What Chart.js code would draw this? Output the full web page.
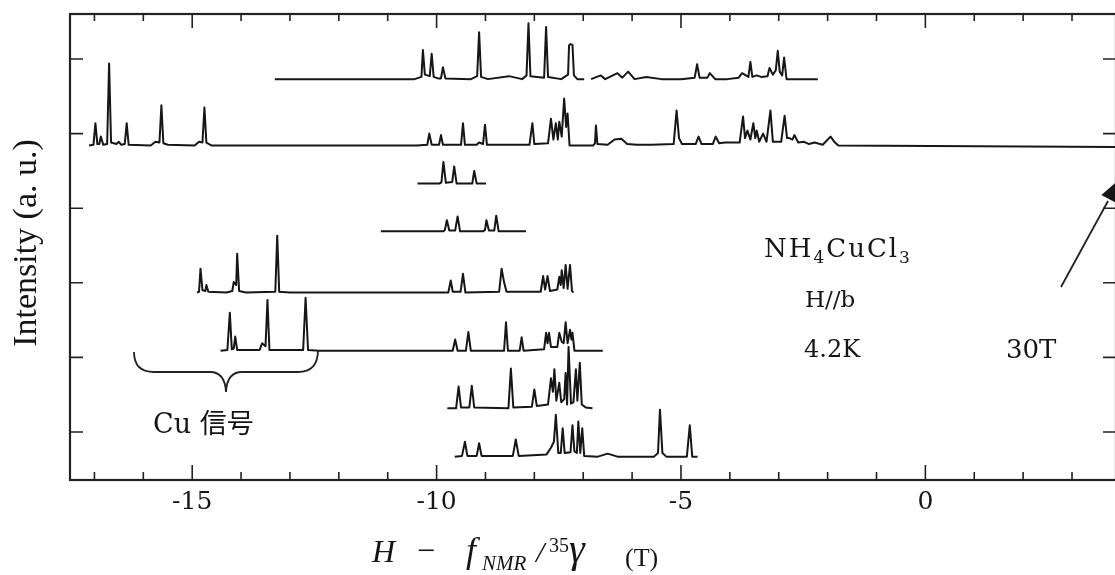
<!DOCTYPE html>
<html lang="ja">
<head>
<meta charset="UTF-8">
<title>NH4CuCl3 NMR spectra</title>
<script src="https://cdn.jsdelivr.net/npm/chart.js"></script>
<style>
  html, body { margin: 0; padding: 0; background: #fff; overflow: hidden; }
  #wrap { width: 1115px; height: 575px; overflow: hidden; }
</style>
</head>
<body>
<div id="wrap"><canvas id="c" width="1125" height="575"></canvas></div>
<script>
  // field axis (T), intensity axis in tick units
  const xMin = -17.5, xMax = 3.9;
  const yMin = 0.357, yMax = 6.603;
  const xTicks = [-17, -16, -15, -14, -13, -12, -11, -10, -9, -8, -7, -6, -5, -4, -3, -2, -1, 0, 1, 2, 3];
  const yTicks = [1, 2, 3, 4, 5, 6];

  // baseline of each stacked spectrum, top to bottom
  const offsets = [5.73, 4.84, 4.33, 3.69, 2.87, 2.09, 1.32, 0.67];

  const specA_x = [-13.31, -10.45, -10.31, -10.28, -10.24, -10.14, -10.10, -10.06, -9.97, -9.91, -9.87, -9.82, -9.30, -9.17, -9.13, -9.09, -8.95, -8.52, -8.25, -8.16, -8.12, -8.08, -7.80, -7.76, -7.72, -7.45, -7.31, -7.29, -7.26, -7.22, -7.19, -7.12, -6.98, -6.91,
    -6.84, -6.64, -6.55, -6.30, -6.20, -6.08, -5.95, -5.71, -5.40, -5.00, -4.72, -4.67, -4.62, -4.46, -4.41, -4.30, -4.05, -3.82, -3.75, -3.62, -3.58, -3.54, -3.45, -3.36, -3.23, -3.19, -3.12, -3.06, -3.02, -2.98, -2.93, -2.89, -2.84, -2.20];
  const specA_y = [0, 0, 0.03, 0.39, 0.06, 0.04, 0.34, 0.03, 0.01, 0.01, 0.16, 0.01, 0, 0.04, 0.63, 0.03, 0, 0.04, 0, 0.05, 0.75, 0.04, 0.02, 0.70, 0.03, 0, 0.06, 0.45, 0.47, 0.46, 0.05, 0, 0, null,
    0, 0.05, 0, 0.08, 0.02, 0.10, 0, 0.03, 0, 0, 0.02, 0.20, 0.02, 0.02, 0.08, 0, 0, 0.02, 0.08, 0.03, 0.23, 0.03, 0.05, 0.03, 0.04, 0.15, 0.06, 0.12, 0.38, 0.10, 0.05, 0.29, 0, 0];

  const specB_x = [-17.11, -17.02, -16.98, -16.94, -16.90, -16.87, -16.82, -16.74, -16.70, -16.66, -16.55, -16.50, -16.45, -16.38, -16.34, -16.30, -15.85, -15.75, -15.67, -15.63, -15.59, -15.50, -14.95, -14.86, -14.79, -14.75, -14.71, -14.60,
    -10.40, -10.19, -10.15, -10.10, -9.95, -9.91, -9.87, -9.50, -9.46, -9.42, -9.18, -9.13, -9.05, -9.01, -8.97, -8.10, -8.04, -8.00, -7.72, -7.66, -7.61, -7.56, -7.52, -7.49, -7.44, -7.39, -7.35, -7.32, -7.28,
    -6.80, -6.76, -6.74, -6.71, -6.50, -6.36, -6.22, -6.10, -5.90, -5.60, -5.15, -5.09, -5.04, -4.98, -4.70, -4.64, -4.58, -4.35, -4.29, -4.22, -4.10, -3.80, -3.73, -3.69, -3.64, -3.58, -3.52, -3.48, -3.45, -3.40, -3.32, -3.25, -3.17, -3.12, -3.07, -2.95, -2.88, -2.83, -2.78, -2.72, -2.68, -2.60, -2.48, -2.38, -2.27, -2.10, -1.94, -1.85, -1.78, 4.0];
  const specB_y = [0, 0.01, 0.30, 0.02, 0.02, 0.12, 0.01, 0.02, 1.10, 0.04, 0.02, 0.05, 0.01, 0.02, 0.30, 0.01, 0, 0.05, 0.04, 0.54, 0.03, 0.01, 0, 0.05, 0.04, 0.51, 0.04, 0,
    0, 0.01, 0.16, 0.01, 0.01, 0.14, 0.01, 0.01, 0.30, 0.01, 0.01, 0.04, 0.02, 0.28, 0.01, 0.01, 0.30, 0.02, 0.03, 0.36, 0.08, 0.30, 0.08, 0.32, 0.12, 0.63, 0.25, 0.43, 0,
    0, 0.03, 0.27, 0.02, 0.01, 0.08, 0.09, 0.02, 0.01, 0.01, 0.02, 0.47, 0.10, 0.02, 0.02, 0.12, 0.02, 0.02, 0.12, 0.03, 0.04, 0.04, 0.39, 0.10, 0.20, 0.08, 0.30, 0.10, 0.20, 0.05, 0.16, 0.05, 0.47, 0.05, 0.05, 0.05, 0.40, 0.10, 0.10, 0.08, 0.14, 0.04, 0.05, 0.02, 0.04, 0.01, 0.12, 0.04, 0, -0.02];

  const specC_x = [-10.39, -9.94, -9.90, -9.86, -9.81, -9.68, -9.64, -9.59, -9.27, -9.23, -9.18, -8.99];
  const specC_y = [0, 0, 0.02, 0.29, 0.01, 0.02, 0.23, 0, 0, 0.17, 0, 0];

  const specD_x = [-11.14, -9.86, -9.83, -9.79, -9.74, -9.62, -9.57, -9.52, -9.05, -9.01, -8.98, -8.93, -8.82, -8.78, -8.73, -8.17];
  const specD_y = [0, 0, 0.02, 0.15, 0.01, 0.01, 0.20, 0, 0, 0.02, 0.15, 0.01, 0.01, 0.21, 0, 0];

  const specE_x = [-14.90, -14.86, -14.83, -14.79, -14.73, -14.71, -14.67, -14.30, -14.18, -14.15, -14.10, -14.08, -14.04, -13.90, -13.30, -13.26, -13.22, -13.00,
    -9.76, -9.71, -9.67, -9.51, -9.46, -9.41, -8.72, -8.67, -8.62, -8.57, -7.87, -7.82, -7.78, -7.73, -7.68, -7.53, -7.49, -7.46, -7.44, -7.40, -7.36, -7.32, -7.27, -7.23, -7.20];
  const specE_y = [0, 0.01, 0.32, 0.03, 0.02, 0.10, 0.01, 0, 0.02, 0.14, 0.10, 0.52, 0.02, 0, 0.01, 0.76, 0.01, 0,
    0, 0.16, 0.01, 0.01, 0.25, 0, 0.01, 0.32, 0.14, 0.01, 0.01, 0.22, 0.04, 0.22, 0.02, 0.04, 0.21, 0.10, 0.30, 0.06, 0.37, 0.05, 0.37, 0.02, 0];

  const specF_x = [-14.42, -14.28, -14.23, -14.19, -14.15, -14.12, -14.08, -13.62, -13.57, -13.50, -13.46, -13.42, -12.73, -12.68, -12.63, -12.40,
    -9.67, -9.62, -9.57, -9.40, -9.35, -9.30, -8.62, -8.58, -8.54, -8.30, -8.26, -8.22, -7.80, -7.76, -7.73, -7.70, -7.66, -7.53, -7.49, -7.44, -7.40, -7.36, -7.32, -7.27, -7.24, -7.22, -7.18, -6.60];
  const specF_y = [0, 0.01, 0.51, 0.02, 0.03, 0.19, 0.01, 0.01, 0.10, 0.06, 0.68, 0.01, 0.01, 0.71, 0.01, 0,
    0, 0.15, 0, 0, 0.25, 0, 0, 0.38, 0, 0, 0.18, 0, 0.02, 0.24, 0.10, 0.24, 0.05, 0.05, 0.24, 0.12, 0.10, 0.38, 0.10, 0.28, 0.15, 0.24, 0, 0];

  const specG_x = [-9.78, -9.60, -9.55, -9.50, -9.33, -9.28, -9.23, -8.53, -8.48, -8.43, -8.05, -8.00, -7.95, -7.72, -7.66, -7.62, -7.59, -7.55, -7.49, -7.45, -7.39, -7.36, -7.33, -7.30, -7.25, -7.20, -7.15, -7.12, -7.07, -7.03, -6.95, -6.81];
  const specG_y = [0, 0, 0.29, 0.01, 0.01, 0.30, 0.01, 0, 0.53, 0.01, 0.02, 0.25, 0.03, 0.05, 0.40, 0.22, 0.52, 0.10, 0.34, 0.08, 0.12, 0.47, 0.05, 0.82, 0.06, 0.08, 0.52, 0.10, 0.61, 0.05, 0.01, 0];

  const specH_x = [-9.63, -9.48, -9.42, -9.37, -9.18, -9.13, -9.08, -8.44, -8.38, -8.32, -7.75, -7.66, -7.60, -7.56, -7.51, -7.46, -7.42, -7.38, -7.26, -7.22, -7.18, -7.13, -7.10, -7.06, -7.02, -6.98, -6.70, -6.50, -6.30, -5.55, -5.47, -5.43, -5.38, -5.30, -4.88, -4.82, -4.77, -4.66];
  const specH_y = [0, 0.01, 0.20, 0.01, 0.01, 0.18, 0.01, 0.01, 0.23, 0.01, 0.03, 0.12, 0.20, 0.56, 0.05, 0.05, 0.38, 0.05, 0.06, 0.42, 0.07, 0.05, 0.47, 0.05, 0.38, 0.01, 0, 0.04, 0, 0, 0.05, 0.63, 0.05, 0, 0, 0.42, 0, 0];

  const spectra = [
    [specA_x, specA_y], [specB_x, specB_y], [specC_x, specC_y], [specD_x, specD_y],
    [specE_x, specE_y], [specF_x, specF_y], [specG_x, specG_y], [specH_x, specH_y]
  ];

  const datasets = spectra.map(([xs, ys], i) => ({
    data: xs.map((x, j) => ({ x: x, y: ys[j] === null ? null : offsets[i] + ys[j] })),
    borderColor: '#161616',
    borderWidth: 2,
    borderJoinStyle: 'round',
    pointRadius: 0,
    tension: 0,
    spanGaps: false
  }));

  const ink = '#151515';
  const serif = '"DejaVu Serif", serif';
  const times = '"Liberation Serif", "Times New Roman", serif';

  function put(ctx, s, x, y, font) {
    ctx.font = font;
    ctx.fillText(s, x, y);
    return ctx.measureText(s).width;
  }

  const decor = {
    id: 'decor',
    afterDraw(chart) {
      const ctx = chart.ctx, a = chart.chartArea;
      const sx = chart.scales.x, sy = chart.scales.y;
      ctx.save();

      // frame and inward ticks
      ctx.strokeStyle = '#222';
      ctx.lineWidth = 2.2;
      ctx.strokeRect(a.left, a.top, a.right - a.left, a.bottom - a.top);
      ctx.lineWidth = 1.6;
      ctx.beginPath();
      sx.ticks.forEach(t => {
        const px = sx.getPixelForValue(t.value);
        const major = t.value % 5 === 0;
        ctx.moveTo(px, a.bottom); ctx.lineTo(px, a.bottom - (major ? 15 : 8));
        ctx.moveTo(px, a.top); ctx.lineTo(px, a.top + (major ? 14 : 7));
      });
      sy.ticks.forEach(t => {
        const py = sy.getPixelForValue(t.value);
        ctx.moveTo(a.left, py); ctx.lineTo(a.left + 13, py);
        ctx.moveTo(a.right, py); ctx.lineTo(a.right - 13, py);
      });
      ctx.stroke();

      ctx.fillStyle = ink;
      ctx.textBaseline = 'alphabetic';
      ctx.textAlign = 'left';

      // sample labels
      ctx.letterSpacing = '2px';
      let x = 764;
      x += put(ctx, 'NH', x, 257, '26px ' + serif);
      x += put(ctx, '4', x, 263, '17px ' + serif);
      x += put(ctx, 'CuCl', x, 257, '26px ' + serif);
      put(ctx, '3', x, 263, '17px ' + serif);
      ctx.letterSpacing = '0px';
      put(ctx, 'H//b', 805, 307, '23px ' + serif);
      put(ctx, '4.2K', 804, 357, '24px ' + serif);
      put(ctx, '30T', 1006, 358, '26px ' + serif);

      // Cu brace
      ctx.lineWidth = 1.8;
      ctx.beginPath();
      ctx.moveTo(134, 352);
      ctx.quadraticCurveTo(134, 372, 154, 372);
      ctx.lineTo(210, 372);
      ctx.quadraticCurveTo(225, 372, 226, 392);
      ctx.quadraticCurveTo(227, 372, 242, 372);
      ctx.lineTo(298, 372);
      ctx.quadraticCurveTo(318, 372, 318, 350);
      ctx.stroke();
      x = 153;
      x += put(ctx, 'Cu ', x, 433, '27px ' + serif);
      put(ctx, '信号', x, 433, '27px "Noto Sans CJK SC", sans-serif');

      // arrow toward 30T trace
      ctx.beginPath();
      ctx.moveTo(1061, 287);
      ctx.lineTo(1108, 201);
      ctx.stroke();
      ctx.beginPath();
      ctx.moveTo(1121, 178);
      ctx.lineTo(1116.4, 203);
      ctx.lineTo(1101.4, 195);
      ctx.closePath();
      ctx.fill();

      // y title
      ctx.save();
      ctx.translate(36, 243);
      ctx.rotate(-Math.PI / 2);
      ctx.textAlign = 'center';
      put(ctx, 'Intensity (a. u.)', 0, 0, '34px ' + times);
      ctx.restore();

      // x title
      put(ctx, 'H', 372, 562, 'italic 32px ' + times);
      put(ctx, '\u2212', 417, 561, '32px ' + times);
      put(ctx, 'f', 466, 562, 'italic 36px ' + times);
      put(ctx, 'NMR', 482, 570, 'italic 21px ' + times);
      put(ctx, '/', 536, 562, 'italic 30px ' + times);
      put(ctx, '35', 549, 552, '20px ' + times);
      put(ctx, '\u03b3', 569, 562, 'italic 40px ' + times);
      put(ctx, '(T)', 625, 566, '26px ' + times);

      ctx.restore();
    }
  };

  new Chart(document.getElementById('c'), {
    type: 'line',
    data: { datasets: datasets },
    options: {
      responsive: false,
      devicePixelRatio: 1,
      animation: false,
      layout: { padding: { top: 14, right: 9, left: 0, bottom: 0 } },
      plugins: { legend: { display: false }, tooltip: { enabled: false } },
      scales: {
        x: {
          type: 'linear',
          min: xMin,
          max: xMax,
          afterBuildTicks: s => { s.ticks = xTicks.map(v => ({ value: v })); },
          afterFit: s => { s.height = 95; },
          grid: { display: false, drawTicks: false },
          border: { display: false },
          ticks: {
            autoSkip: false,
            maxRotation: 0,
            padding: 7,
            color: ink,
            font: { family: 'DejaVu Serif', size: 25 },
            callback: v => (v % 5 === 0 ? String(v) : '')
          }
        },
        y: {
          type: 'linear',
          min: yMin,
          max: yMax,
          afterBuildTicks: s => { s.ticks = yTicks.map(v => ({ value: v })); },
          afterFit: s => { s.width = 70; },
          grid: { display: false, drawTicks: false },
          border: { display: false },
          ticks: { display: false }
        }
      }
    },
    plugins: [decor]
  });
</script>
</body>
</html>
